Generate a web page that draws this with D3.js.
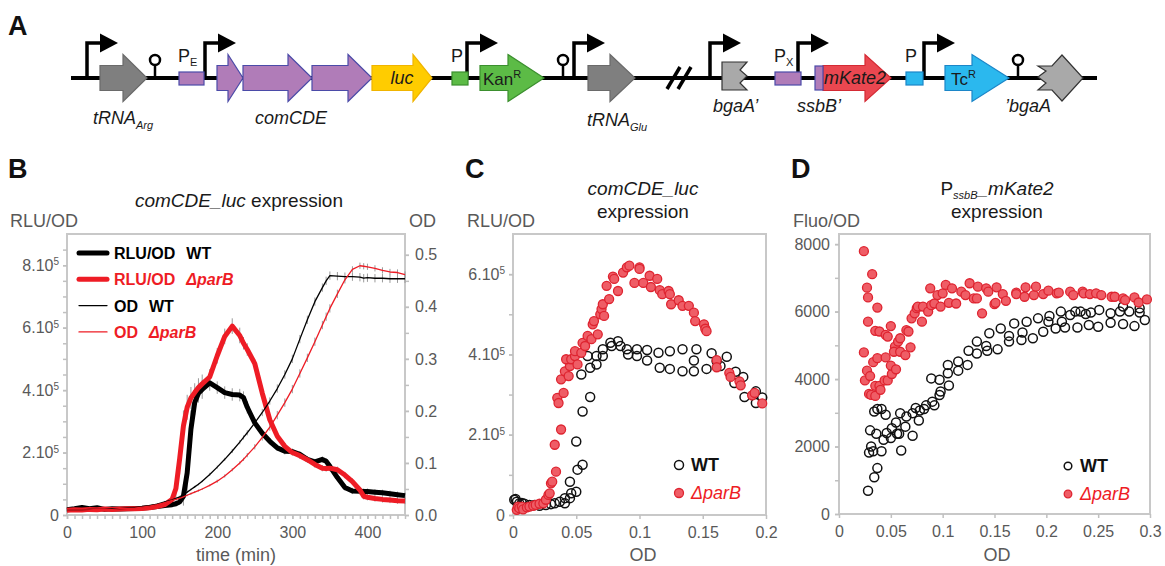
<!DOCTYPE html>
<meta charset="utf-8">
<style>
body { margin: 0; background: #fff; }
svg { font-family: "Liberation Sans", Arial, sans-serif; }
.frame { fill: none; stroke: #c8c8c8; stroke-width: 2px; }
.axis path { display: none; }
.axis line { stroke: #c0c0c0; stroke-width: 1.5px; }
.axis text { fill: #595959; font-size: 16px; font-family: "Liberation Sans", Arial, sans-serif; }
.lab { fill: #595959; font-size: 18px; }
.title { fill: #1a1a1a; font-size: 19px; }
.panel { font-weight: bold; font-size: 27px; fill: #111; }
.gene { fill: #1a1a1a; font-size: 18px; font-style: italic; }
</style>
<svg width="1165" height="566"></svg>
<script src="https://d3js.org/d3.v7.min.js"></script>
<script>

// ---------- panel B : time course (RLU/OD in 10^5 units) ----------
var timeMin = [0,10,20,30,40,50,60,70,80,90,100,110,120,130,140,145,150,155,160,165,170,175,180,
  190,200,210,220,230,235,240,250,260,270,280,290,300,310,320,330,340,345,350,360,370,380,390,395,
  400,410,420,430,440,450];
var rluWT = [0.17,0.20,0.24,0.20,0.23,0.18,0.20,0.19,0.20,0.21, 0.22,0.24,0.27,0.30,0.33,
  0.36,0.42,0.60,1.35,2.75,3.60,3.90,4.02, 4.23,4.08,3.92,3.86,3.84, 3.76,3.45,
  2.95,2.62,2.36,2.15,2.04,2.03,1.94,1.78,1.70,1.78, 1.72,1.56, 1.20,0.88,0.77,0.76, 0.75,
  0.75,0.73,0.71,0.68,0.65,0.62];
var rluParB = [0.15,0.17,0.16,0.18,0.17,0.19,0.18,0.19,0.20,0.20, 0.21,0.23,0.27,0.33,0.50,
  0.85,1.80,2.85,3.45,3.75,3.92,4.08,4.20, 4.42,5.10,5.72,6.05,5.75, 5.50,5.30,
  4.85,3.90,3.05,2.52,2.20,2.00,1.90,1.77,1.62,1.50, 1.49,1.50, 1.45,1.28,1.07,0.80, 0.60,
  0.57,0.53,0.50,0.48,0.46,0.45];
var odWT = [0.010,0.010,0.010,0.011,0.011,0.011,0.012,0.012,0.013,0.014, 0.016,0.018,0.021,0.025,0.029,
  0.032,0.035,0.039,0.044,0.049,0.054,0.059,0.065, 0.078,0.092,0.107,0.123,0.140, 0.149,0.158,
  0.177,0.197,0.219,0.243,0.270,0.300,0.338,0.375,0.410,0.437, 0.450,0.460, 0.459,0.458,0.458,0.457, 0.455,
  0.456,0.455,0.455,0.454,0.454,0.454];
var odParB = [0.010,0.010,0.010,0.010,0.011,0.011,0.011,0.012,0.012,0.013, 0.015,0.017,0.020,0.024,0.028,
  0.030,0.032,0.035,0.038,0.041,0.044,0.047,0.050, 0.057,0.065,0.075,0.087,0.100, 0.107,0.115,
  0.131,0.149,0.169,0.192,0.216,0.242,0.272,0.302,0.333,0.365, 0.381,0.397, 0.425,0.452,0.472,0.479, 0.478,
  0.477,0.474,0.470,0.467,0.466,0.462];
// error bars (sd)
var rluWTsd = [0.05,0.05,0.05,0.05,0.05,0.05,0.05,0.05,0.05,0.05, 0.05,0.05,0.05,0.05,0.05,
  0.05,0.1,0.3,0.6,0.6,0.4,0.3,0.3, 0.25,0.2,0.2,0.2,0.2, 0.2,0.2,
  0.1,0.1,0.1,0.1,0.1,0.1,0.1,0.1,0.1,0.1, 0.1,0.1, 0.1,0.1,0.1,0.1, 0.1,
  0.1,0.1,0.1,0.1,0.1,0.1];
var rluParBsd = [0.05,0.05,0.05,0.05,0.05,0.05,0.05,0.05,0.05,0.05, 0.05,0.05,0.05,0.05,0.1,
  0.3,0.5,0.5,0.4,0.35,0.3,0.3,0.3, 0.25,0.25,0.25,0.25,0.25, 0.2,0.2,
  0.15,0.15,0.1,0.1,0.1,0.1,0.1,0.1,0.1,0.1, 0.1,0.1, 0.1,0.1,0.1,0.1, 0.1,
  0.1,0.1,0.1,0.1,0.1,0.1];
var odWTsd = [0.002,0.002,0.002,0.002,0.002,0.002,0.002,0.002,0.002,0.002, 0.002,0.002,0.002,0.002,0.002,
  0.002,0.002,0.002,0.002,0.002,0.002,0.002,0.002, 0.003,0.003,0.003,0.004,0.004, 0.004,0.005,
  0.006,0.007,0.007,0.008,0.008,0.008,0.008,0.008,0.008,0.008, 0.008,0.008, 0.008,0.008,0.008,0.008, 0.008,
  0.008,0.008,0.008,0.008,0.008,0.008];
var odParBsd = [0.002,0.002,0.002,0.002,0.002,0.002,0.002,0.002,0.002,0.002, 0.002,0.002,0.002,0.002,0.002,
  0.002,0.002,0.002,0.002,0.002,0.002,0.002,0.002, 0.002,0.003,0.003,0.003,0.003, 0.003,0.004,
  0.005,0.006,0.007,0.008,0.008,0.008,0.008,0.008,0.008,0.008, 0.008,0.008, 0.008,0.007,0.006,0.006, 0.006,
  0.006,0.006,0.006,0.006,0.006,0.006];

// ---------- panel C : RLU/OD (10^5) vs OD ----------
var cOdWT = [0.001,0.002,0.003,0.005,0.007,0.009,0.013,0.017,0.021,0.026,0.030,0.033,0.037,0.041,0.041,0.045,
  0.046,0.050,0.045,0.051,0.055,0.050,0.055,0.061,0.054,0.061,0.059,0.066,0.066,0.071,0.071,0.077,0.078,0.083,
  0.085,0.090,0.091,0.098,0.098,0.106,0.106,0.115,0.116,0.124,0.124,0.134,0.134,0.143,0.143,0.145,0.153,0.157,
  0.161,0.164,0.169,0.176,0.175,0.182,0.183,0.192,0.192,0.197];
var cRluWT = [0.38,0.40,0.33,0.29,0.30,0.28,0.25,0.25,0.23,0.25,0.27,0.29,0.33,0.42,0.29,0.42,
  0.54,0.58,0.83,1.13,1.25,1.83,2.58,2.94,3.50,3.67,3.96,3.75,3.96,4.13,3.96,4.29,4.21,4.33,
  4.21,4.13,4.00,4.13,3.96,4.11,3.85,4.04,3.67,4.08,3.64,4.13,3.58,3.85,3.58,4.13,3.64,4.03,
  3.83,3.71,3.94,3.57,3.29,3.44,2.94,3.08,2.79,2.93];
var cOdParB = [0.003,0.004,0.005,0.007,0.008,0.011,0.013,0.016,0.018,0.021,0.024,0.026,0.028,0.029,0.030,0.031,
  0.034,0.033,0.038,0.035,0.036,0.040,0.038,0.041,0.044,0.045,0.042,0.046,0.049,0.049,0.051,0.054,0.055,0.057,
  0.059,0.062,0.063,0.064,0.067,0.069,0.070,0.071,0.072,0.074,0.076,0.079,0.080,0.083,0.087,0.090,0.092,0.096,
  0.100,0.100,0.103,0.108,0.109,0.114,0.116,0.118,0.123,0.124,0.125,0.131,0.134,0.139,0.143,0.144,0.151,0.152,
  0.153,0.161,0.161,0.171,0.172,0.179,0.180,0.189,0.191,0.197];
var cRluParB = [0.13,0.21,0.17,0.21,0.14,0.19,0.21,0.23,0.25,0.28,0.29,0.38,0.50,0.54,0.79,0.83,
  1.08,1.75,2.13,2.92,2.79,3.04,3.38,3.58,3.46,3.71,3.88,3.88,3.96,4.08,3.75,4.04,4.29,4.21,
  4.46,4.38,4.75,4.83,4.50,5.00,5.13,5.25,4.96,5.71,5.38,5.94,5.88,5.58,6.04,6.17,6.21,5.78,
  6.17,6.13,5.78,5.96,5.68,5.88,5.60,5.50,5.58,5.50,5.25,5.35,5.21,5.21,5.04,4.83,4.75,4.64,
  4.58,3.86,3.68,3.54,3.44,3.33,3.23,2.98,3.04,2.78];

// ---------- panel D : Fluo/OD vs OD ----------
var dOdWT = [0.028,0.034,0.037,0.029,0.031,0.030,0.034,0.037,0.041,0.045,0.036,0.033,0.041,0.043,0.046,0.050,
  0.051,0.055,0.056,0.058,0.060,0.059,0.064,0.065,0.071,0.071,0.074,0.077,0.078,0.082,0.084,0.090,0.092,0.089,
  0.097,0.098,0.097,0.105,0.106,0.105,0.115,0.115,0.124,0.125,0.133,0.133,0.142,0.143,0.145,0.153,0.156,0.164,
  0.164,0.169,0.176,0.177,0.181,0.187,0.192,0.197,0.202,0.203,0.209,0.214,0.215,0.218,0.223,0.228,0.230,0.233,
  0.238,0.241,0.243,0.251,0.250,0.262,0.262,0.271,0.274,0.274,0.280,0.285,0.290,0.290,0.295];
var dFluoWT = [690,1090,1360,1820,2000,2480,3040,3110,3110,2940,2380,1860,1860,2200,2400,2250,
  2540,2710,2380,2380,1880,2990,2590,2890,2320,2990,3140,2770,3070,3110,3220,3330,3220,4020,
  3530,3630,3980,4420,3810,4170,4520,4250,4420,4840,5110,4760,4980,4840,5360,4880,5500,5110,
  5280,5650,5160,5380,5700,5210,5800,5400,5700,5870,5500,6000,5700,5530,5900,6000,5530,6000,
  5930,5600,5970,6050,5550,5950,5670,6000,6150,5630,6000,5570,6100,5970,5750];
var dOdParB = [0.024,0.027,0.028,0.032,0.028,0.037,0.024,0.035,0.039,0.045,0.047,0.050,0.027,0.025,0.030,0.033,
  0.037,0.045,0.029,0.031,0.035,0.035,0.039,0.040,0.044,0.047,0.051,0.050,0.055,0.054,0.053,0.057,0.059,0.059,
  0.064,0.065,0.067,0.069,0.070,0.073,0.075,0.076,0.080,0.081,0.086,0.088,0.089,0.092,0.095,0.098,0.100,0.103,
  0.106,0.109,0.113,0.118,0.122,0.126,0.130,0.133,0.134,0.138,0.142,0.144,0.150,0.151,0.152,0.158,0.161,0.171,
  0.171,0.179,0.180,0.188,0.190,0.197,0.202,0.210,0.212,0.223,0.226,0.235,0.236,0.242,0.248,0.253,0.263,0.266,
  0.274,0.276,0.285,0.289,0.297];
var dFluoParB = [7790,6710,6420,7110,5700,6120,4790,5430,5410,5310,5260,5570,4250,3960,4090,4500,
  4620,4640,3560,3530,3500,3800,3800,3680,3960,3960,4150,4400,4290,4960,4810,5110,5210,4810,
  4710,5450,5410,4940,5800,5950,6100,6150,5700,6150,6000,6690,6190,6240,6490,6150,6540,6790,
  6260,6690,6240,6590,6490,6840,6390,6390,6740,5950,6690,6590,6220,6260,6720,6520,6320,6560,
  6520,6440,6720,6490,6740,6520,6620,6540,6560,6590,6490,6590,6540,6520,6540,6490,6440,6440,
  6390,6340,6420,6270,6360];

// ---------- panel A : construct features (construct units) ----------
var promoters = [16, 134, 396, 503, 639, 727, 853];
var terminators = [84, 492, 947];
var boxes = [
  {from: 108, to: 133, fill: "#b07cb8", stroke: "#4b4ba8"},
  {from: 381, to: 397, fill: "#5cbb46", stroke: "#3b8f2e"},
  {from: 704, to: 730, fill: "#b07cb8", stroke: "#4b4ba8"},
  {from: 835, to: 852, fill: "#2bb8ee", stroke: "#1c86c8"}
];
var genes = [
  {from: 29, head: 52, to: 76, fill: "#7f7f7f", stroke: "#6a6a6a"},
  {from: 146, head: 157, to: 172, fill: "#b07cb8", stroke: "#4b4ba8"},
  {from: 172, head: 217, to: 241, fill: "#b07cb8", stroke: "#4b4ba8"},
  {from: 241, head: 277, to: 301, fill: "#b07cb8", stroke: "#4b4ba8"},
  {from: 301, head: 342, to: 361, fill: "#ffcc00", stroke: "#f0b400"},
  {from: 409, head: 437, to: 473, fill: "#5cbb46", stroke: "#3b8f2e"},
  {from: 517, head: 539, to: 564, fill: "#7f7f7f", stroke: "#6a6a6a"},
  {from: 752, head: 794, to: 820, fill: "#ea4750", stroke: "#d42a34"},
  {from: 874, head: 901, to: 938, fill: "#2bb8ee", stroke: "#1c86c8"}
];

var svg = d3.select("svg");
var red = "#ee1c25";

// ================= panel A =================
var gx = d3.scaleLinear().domain([0, 1026]).range([71, 1097]);
var cy = 78;
var gA = svg.append("g");

gA.append("line").attr("x1", gx(0)).attr("x2", gx(1026)).attr("y1", cy).attr("y2", cy)
  .attr("stroke", "#000").attr("stroke-width", 4);

// break mark
[596, 607].forEach(function(b) {
  gA.append("line").attr("x1", gx(b)).attr("y1", cy + 11).attr("x2", gx(b + 13)).attr("y2", cy - 11)
    .attr("stroke", "#000").attr("stroke-width", 3.5);
});

// terminators
terminators.forEach(function(t) {
  gA.append("line").attr("x1", gx(t)).attr("x2", gx(t)).attr("y1", cy).attr("y2", cy - 13)
    .attr("stroke", "#000").attr("stroke-width", 2.5);
  gA.append("circle").attr("cx", gx(t)).attr("cy", cy - 18).attr("r", 5)
    .attr("fill", "#fff").attr("stroke", "#000").attr("stroke-width", 2.5);
});

// promoter arrows
promoters.forEach(function(p) {
  var x0 = gx(p);
  gA.append("path").attr("d", "M" + x0 + "," + cy + "V43H" + (x0 + 14))
    .attr("fill", "none").attr("stroke", "#000").attr("stroke-width", 3.5);
  gA.append("path").attr("d", "M" + (x0 + 13) + ",33.5L" + (x0 + 31) + ",43L" + (x0 + 13) + ",52.5Z")
    .attr("fill", "#000");
});

boxes.forEach(function(b) {
  gA.append("rect").attr("x", gx(b.from)).attr("y", 72).attr("width", gx(b.to) - gx(b.from)).attr("height", 13)
    .attr("fill", b.fill).attr("stroke", b.stroke).attr("stroke-width", 1.2);
});

function arrowPath(x0, xh, x1, bh, hh) {
  return "M" + x0 + "," + (cy - bh) + "L" + xh + "," + (cy - bh) + "L" + xh + "," + (cy - hh) +
    "L" + x1 + "," + cy + "L" + xh + "," + (cy + hh) + "L" + xh + "," + (cy + bh) + "L" + x0 + "," + (cy + bh) + "Z";
}
genes.forEach(function(g) {
  gA.append("path").attr("d", arrowPath(gx(g.from), gx(g.head), gx(g.to), 12.5, 23.5))
    .attr("fill", g.fill).attr("stroke", g.stroke).attr("stroke-width", 1.2);
});
// ssbB' fragment
gA.append("rect").attr("x", gx(744)).attr("y", 66).attr("width", gx(752) - gx(744)).attr("height", 24)
  .attr("fill", "#b07cb8").attr("stroke", "#4b4ba8").attr("stroke-width", 1.2);

// bgaA' (truncated 3' end)
var b1 = gx(651), b2 = gx(676);
gA.append("path").attr("d", "M" + b1 + ",62L" + b2 + ",62L" + (b2 - 7) + ",70L" + b2 + ",76L" + (b2 - 7) + ",83L" + b2 + ",90L" + b1 + ",90Z")
  .attr("fill", "#a9a9a9").attr("stroke", "#333").attr("stroke-width", 1.2);
// 'bgaA (truncated 5' end)
var c1 = gx(967), ch = gx(991), c2 = gx(1012);
gA.append("path").attr("d", "M" + c1 + ",66L" + (ch - 10) + ",66L" + ch + ",55L" + c2 + "," + cy + "L" + ch + ",101L" + (ch - 10) + ",90L" + c1 + ",90L" + (c1 + 8) + ",83L" + c1 + ",77L" + (c1 + 8) + ",71Z")
  .attr("fill", "#a9a9a9").attr("stroke", "#333").attr("stroke-width", 1.2);

// diagram labels
function sub(t, txt, dy, size) {
  t.append("tspan").attr("dy", dy).attr("font-size", size).text(txt);
}
var t;
t = gA.append("text").attr("class", "gene").attr("x", gx(22)).attr("y", 124).text("tRNA");
sub(t, "Arg", 5, "11px");
gA.append("text").attr("class", "gene").attr("x", gx(220)).attr("y", 124).attr("text-anchor", "middle").text("comCDE");
t = gA.append("text").attr("class", "gene").attr("x", gx(516)).attr("y", 126).text("tRNA");
sub(t, "Glu", 5, "11px");
gA.append("text").attr("class", "gene").attr("x", gx(642)).attr("y", 112).text("bgaA\u2019");
gA.append("text").attr("class", "gene").attr("x", gx(726)).attr("y", 112).text("ssbB\u2019");
gA.append("text").attr("class", "gene").attr("x", gx(934)).attr("y", 112).text("\u2019bgaA");
gA.append("text").attr("class", "gene").attr("x", gx(331)).attr("y", 84).attr("text-anchor", "middle").text("luc");
gA.append("text").attr("class", "gene").attr("x", gx(753)).attr("y", 84).attr("font-size", "17px").text("mKate2");
t = gA.append("text").attr("x", gx(412)).attr("y", 85).attr("font-size", "17px").attr("fill", "#1a1a1a").text("Kan");
sub(t, "R", -7, "11px");
t = gA.append("text").attr("x", gx(880)).attr("y", 85).attr("font-size", "17px").attr("fill", "#1a1a1a").text("Tc");
sub(t, "R", -7, "11px");
[[107, "E"], [380, ""], [703, "X"], [834, ""]].forEach(function(p) {
  var tt = gA.append("text").attr("x", gx(p[0])).attr("y", 62).attr("font-size", "18px").attr("fill", "#1a1a1a").text("P");
  if (p[1]) sub(tt, p[1], 4, "11px");
});

// panel letters
[["A", 8, 35], ["B", 8, 178], ["C", 465, 178], ["D", 791, 178]].forEach(function(p) {
  svg.append("text").attr("class", "panel").attr("x", p[1]).attr("y", p[2]).text(p[0]);
});

// ================= helpers =================
function frame(xs, ys) {
  svg.append("rect").attr("class", "frame")
    .attr("x", xs.range()[0]).attr("y", ys.range()[1])
    .attr("width", xs.range()[1] - xs.range()[0]).attr("height", ys.range()[0] - ys.range()[1]);
}
function supLabels(g) {
  g.selectAll(".tick text").each(function(d) {
    if (d !== 0) d3.select(this).append("tspan").attr("dy", "-0.55em").attr("font-size", "10px").text("5");
  });
}
function fmtTen(d) { return d === 0 ? "0" : d + ".10"; }
function fmtDec(d) { return d === 0 ? "0" : String(d); }

// ================= panel B =================
var xB = d3.scaleLinear().domain([0, 450]).range([67, 405]);
var yL = d3.scaleLinear().domain([0, 9]).range([515, 234]);
var yR = d3.scaleLinear().domain([0, 0.54]).range([515, 234]);

frame(xB, yL);
svg.append("g").attr("class", "axis").attr("transform", "translate(0,515)")
  .call(d3.axisBottom(xB).tickValues(d3.range(0, 451, 10)).tickSize(4).tickFormat(""));
svg.append("g").attr("class", "axis").attr("transform", "translate(0,515)")
  .call(d3.axisBottom(xB).tickValues([0, 100, 200, 300, 400]).tickSize(4).tickPadding(8).tickFormat(d3.format("d")));
svg.append("g").attr("class", "axis").attr("transform", "translate(67,0)")
  .call(d3.axisLeft(yL).tickValues(d3.range(0, 9, 0.5)).tickSize(4).tickFormat(""));
svg.append("g").attr("class", "axis").attr("transform", "translate(67,0)")
  .call(d3.axisLeft(yL).tickValues([0, 2, 4, 6, 8]).tickSize(4).tickPadding(4).tickFormat(fmtTen))
  .call(supLabels);
svg.append("g").attr("class", "axis").attr("transform", "translate(405,0)")
  .call(d3.axisRight(yR).tickValues(d3.range(0, 0.51, 0.05)).tickSize(4).tickFormat(""));
svg.append("g").attr("class", "axis").attr("transform", "translate(405,0)")
  .call(d3.axisRight(yR).tickValues([0, 0.1, 0.2, 0.3, 0.4, 0.5]).tickSize(4).tickPadding(6).tickFormat(d3.format(".1f")));

svg.append("text").attr("class", "lab").attr("x", 10).attr("y", 227).text("RLU/OD");
svg.append("text").attr("class", "lab").attr("x", 409).attr("y", 227).text("OD");
svg.append("text").attr("class", "lab").attr("x", 236).attr("y", 561).attr("text-anchor", "middle").text("time (min)");
t = svg.append("text").attr("class", "title").attr("x", 239).attr("y", 207).attr("text-anchor", "middle");
t.append("tspan").attr("font-style", "italic").text("comCDE_luc");
t.append("tspan").text(" expression");

var seriesB = [
  {v: rluWT, sd: rluWTsd, y: yL, color: "#000", w: 5},
  {v: rluParB, sd: rluParBsd, y: yL, color: red, w: 5},
  {v: odWT, sd: odWTsd, y: yR, color: "#000", w: 1.3},
  {v: odParB, sd: odParBsd, y: yR, color: red, w: 1.3}
];
var gB = svg.append("g");
seriesB.forEach(function(s) {
  gB.selectAll(null).data(timeMin).enter().append("line")
    .attr("x1", function(d) { return xB(d); }).attr("x2", function(d) { return xB(d); })
    .attr("y1", function(d, i) { return s.y(s.v[i] - s.sd[i]); })
    .attr("y2", function(d, i) { return s.y(s.v[i] + s.sd[i]); })
    .attr("stroke", "#9a9a9a").attr("stroke-width", 1);
});
seriesB.forEach(function(s) {
  var line = d3.line().x(function(d) { return xB(d); }).y(function(d, i) { return s.y(s.v[i]); });
  gB.append("path").attr("d", line(timeMin)).attr("fill", "none")
    .attr("stroke", s.color).attr("stroke-width", s.w).attr("stroke-linejoin", "round");
});

// legend B
var legB = [
  {txt: "RLU/OD", who: "WT", color: "#000", w: 5},
  {txt: "RLU/OD", who: "\u0394parB", color: red, w: 5},
  {txt: "OD", who: "WT", color: "#000", w: 1.3},
  {txt: "OD", who: "\u0394parB", color: red, w: 1.3}
];
legB.forEach(function(l, i) {
  var yy = 253 + i * 26.3;
  svg.append("line").attr("x1", 79).attr("x2", 107).attr("y1", yy).attr("y2", yy)
    .attr("stroke", l.color).attr("stroke-width", l.w).attr("stroke-linecap", "round");
  var tx = svg.append("text").attr("x", 114).attr("y", yy + 6).attr("font-size", "16px")
    .attr("font-weight", "bold").attr("fill", l.color).text(l.txt);
  tx.append("tspan").attr("dx", 11).attr("font-style", l.who === "WT" ? "normal" : "italic").text(l.who);
});

// ================= scatter panels =================
function scatterPanel(xs, ys, wtX, wtY, pbX, pbY, r) {
  var g = svg.append("g");
  g.selectAll(null).data(wtX).enter().append("circle")
    .attr("cx", function(d) { return xs(d); }).attr("cy", function(d, i) { return ys(wtY[i]); })
    .attr("r", r).attr("fill", "none").attr("stroke", "#111").attr("stroke-width", 1.5);
  g.selectAll(null).data(pbX).enter().append("circle")
    .attr("cx", function(d) { return xs(d); }).attr("cy", function(d, i) { return ys(pbY[i]); })
    .attr("r", r).attr("fill", "#ef5d66").attr("stroke", "#de2430").attr("stroke-width", 1.3);
}
function scatterLegend(x, y, r) {
  svg.append("circle").attr("cx", x).attr("cy", y).attr("r", r)
    .attr("fill", "none").attr("stroke", "#111").attr("stroke-width", 1.5);
  svg.append("text").attr("x", x + 12).attr("y", y + 6).attr("font-size", "18px").attr("font-weight", "bold")
    .attr("fill", "#111").text("WT");
  svg.append("circle").attr("cx", x).attr("cy", y + 28).attr("r", r)
    .attr("fill", "#ef5d66").attr("stroke", "#de2430").attr("stroke-width", 1.3);
  svg.append("text").attr("x", x + 12).attr("y", y + 34).attr("font-size", "18px").attr("font-style", "italic")
    .attr("fill", red).text("\u0394parB");
}

// panel C
var xC = d3.scaleLinear().domain([0, 0.2]).range([513, 766]);
var yC = d3.scaleLinear().domain([0, 7]).range([515, 234]);
frame(xC, yC);
svg.append("g").attr("class", "axis").attr("transform", "translate(0,515)")
  .call(d3.axisBottom(xC).tickValues([0, 0.05, 0.1, 0.15, 0.2]).tickSize(4).tickPadding(8).tickFormat(fmtDec));
svg.append("g").attr("class", "axis").attr("transform", "translate(513,0)")
  .call(d3.axisLeft(yC).tickValues(d3.range(0, 7, 1)).tickSize(4).tickFormat(""));
svg.append("g").attr("class", "axis").attr("transform", "translate(513,0)")
  .call(d3.axisLeft(yC).tickValues([0, 2, 4, 6]).tickSize(4).tickPadding(4).tickFormat(fmtTen))
  .call(supLabels);
svg.append("text").attr("class", "lab").attr("x", 467).attr("y", 227).text("RLU/OD");
svg.append("text").attr("class", "lab").attr("x", 643).attr("y", 561).attr("text-anchor", "middle").text("OD");
svg.append("text").attr("class", "title").attr("x", 643).attr("y", 195).attr("text-anchor", "middle")
  .attr("font-style", "italic").text("comCDE_luc");
svg.append("text").attr("class", "title").attr("x", 643).attr("y", 218).attr("text-anchor", "middle").text("expression");
scatterPanel(xC, yC, cOdWT, cRluWT, cOdParB, cRluParB, 4.5);
scatterLegend(679, 465, 4.5);

// panel D
var xD = d3.scaleLinear().domain([0, 0.3]).range([839, 1150]);
var yD = d3.scaleLinear().domain([0, 8300]).range([514, 234]);
frame(xD, yD);
svg.append("g").attr("class", "axis").attr("transform", "translate(0,514)")
  .call(d3.axisBottom(xD).tickValues([0, 0.05, 0.1, 0.15, 0.2, 0.25, 0.3]).tickSize(4).tickPadding(8).tickFormat(fmtDec));
svg.append("g").attr("class", "axis").attr("transform", "translate(839,0)")
  .call(d3.axisLeft(yD).tickValues(d3.range(0, 8001, 1000)).tickSize(4).tickFormat(""));
svg.append("g").attr("class", "axis").attr("transform", "translate(839,0)")
  .call(d3.axisLeft(yD).tickValues([0, 2000, 4000, 6000, 8000]).tickSize(4).tickPadding(5).tickFormat(d3.format("d")));
svg.append("text").attr("class", "lab").attr("x", 793).attr("y", 227).text("Fluo/OD");
svg.append("text").attr("class", "lab").attr("x", 997).attr("y", 561).attr("text-anchor", "middle").text("OD");
t = svg.append("text").attr("class", "title").attr("x", 997).attr("y", 195).attr("text-anchor", "middle");
t.append("tspan").text("P");
t.append("tspan").attr("font-size", "11px").attr("font-style", "italic").attr("dy", 4).text("ssbB");
t.append("tspan").attr("font-style", "italic").attr("dy", -4).text("_mKate2");
svg.append("text").attr("class", "title").attr("x", 997).attr("y", 218).attr("text-anchor", "middle").text("expression");
scatterPanel(xD, yD, dOdWT, dFluoWT, dOdParB, dFluoParB, 4.5);
scatterLegend(1068, 466, 3.8);

</script>
